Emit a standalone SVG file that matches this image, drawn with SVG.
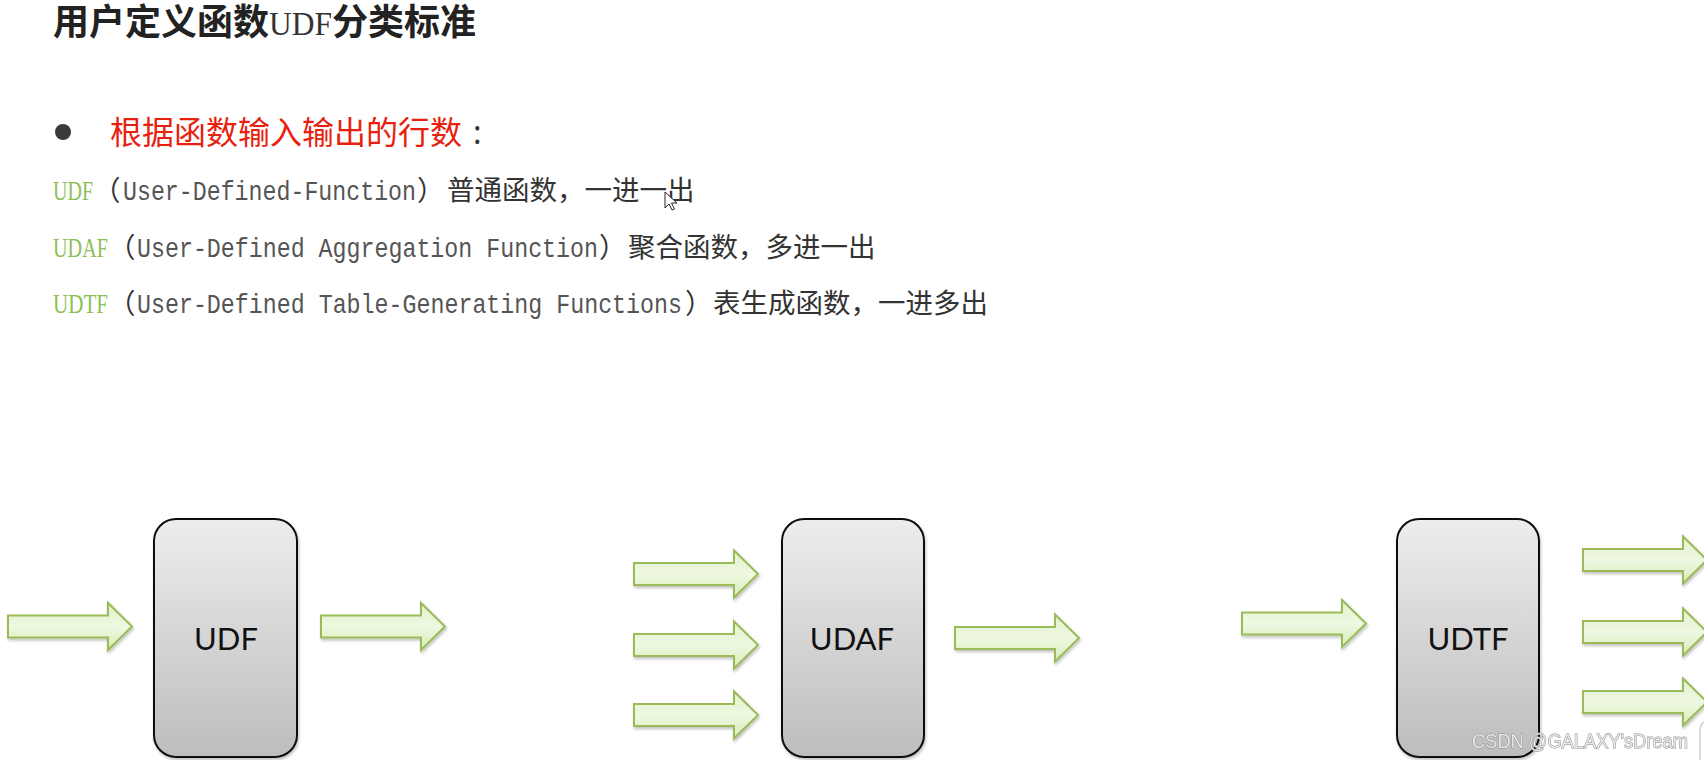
<svg xmlns="http://www.w3.org/2000/svg" width="1704" height="760" viewBox="0 0 1704 760">
<style>
.cjk{font-family:"Noto Sans CJK SC",sans-serif;fill:#333}
.title{font-size:36px;font-weight:700;fill:#222}
.tser{font-family:"Liberation Serif","Noto Sans CJK SC",serif;font-size:33px;fill:#333}
.red{font-size:32px;fill:#e8210f}
.colon{font-family:"Noto Sans","Noto Sans CJK SC",sans-serif;font-size:32px;fill:#333}
.line{font-size:27.5px}
.green{font-family:"Liberation Serif",serif;font-size:28px;fill:#8cbf55}
.mono{font-family:"Liberation Mono",monospace;font-size:28px;fill:#555}
.box{stroke:#111;stroke-width:2;fill:url(#boxg)}
.lbl{font-family:Lato,"Open Sans",sans-serif;font-size:31px;fill:#111;text-anchor:middle}
.arr{fill:url(#arrg);stroke:#9bbb59;stroke-width:2;stroke-linejoin:miter}
.wm{font-family:"Liberation Sans",Arial,sans-serif;font-size:21px;fill:#e6e6e6;stroke:#8a8a8a;stroke-width:1;paint-order:stroke}
</style>
<defs>
<linearGradient id="boxg" x1="0" y1="0" x2="0" y2="1">
<stop offset="0" stop-color="#ededed"/>
<stop offset="1" stop-color="#bdbdbd"/>
</linearGradient>
<linearGradient id="arrg" x1="0" y1="0" x2="0" y2="1">
<stop offset="0" stop-color="#e2f2cc"/>
<stop offset="0.5" stop-color="#eef8e2"/>
<stop offset="1" stop-color="#d6edb6"/>
</linearGradient>
<filter id="sh" x="-10%" y="-10%" width="130%" height="140%">
<feDropShadow dx="1" dy="2" stdDeviation="1.5" flood-color="#000" flood-opacity="0.25"/>
</filter>
<path id="arrow" class="arr" d="M0,-11 H100 V-23.5 L124,0 L100,23.5 V11 H0 Z"/>
</defs>
<rect width="1704" height="760" fill="#ffffff"/>

<g id="header">
<text x="53" y="35" class="cjk title">用户定义函数<tspan class="tser" font-weight="400" textLength="63" lengthAdjust="spacingAndGlyphs">UDF</tspan>分类标准</text>
<circle cx="63" cy="132" r="8" fill="#3a3a3a"/>
<text x="110" y="144" class="cjk red">根据函数输入输出的行数</text>
<text x="473" y="144" class="colon">:</text>
</g>

<g id="desc">
<text x="53" y="200" class="green" textLength="40" lengthAdjust="spacingAndGlyphs">UDF</text>
<text x="93" y="200" class="cjk line">（</text>
<text x="123" y="200" class="mono" textLength="293" lengthAdjust="spacingAndGlyphs">User-Defined-Function</text>
<text x="417" y="200" class="cjk line">）</text>
<text x="447" y="200" class="cjk line">普通函数，一进一出</text>

<text x="53" y="257" class="green" textLength="55" lengthAdjust="spacingAndGlyphs">UDAF</text>
<text x="108" y="257" class="cjk line">（</text>
<text x="137" y="257" class="mono" textLength="461" lengthAdjust="spacingAndGlyphs">User-Defined Aggregation Function</text>
<text x="599" y="257" class="cjk line">）</text>
<text x="628" y="257" class="cjk line">聚合函数，多进一出</text>

<text x="53" y="313" class="green" textLength="55" lengthAdjust="spacingAndGlyphs">UDTF</text>
<text x="108" y="313" class="cjk line">（</text>
<text x="137" y="313" class="mono" textLength="545" lengthAdjust="spacingAndGlyphs">User-Defined Table-Generating Functions</text>
<text x="685" y="313" class="cjk line">）</text>
<text x="713" y="313" class="cjk line">表生成函数，一进多出</text>
</g>

<g id="cursor">
<path d="M665,192 V208 L669,204 L672,210 L674.5,209 L671.5,203 L677,203 Z" fill="#fff" stroke="#222" stroke-width="1"/>
</g>

<g id="node-udf">
<rect x="154" y="519" width="143" height="238" rx="22" class="box" filter="url(#sh)"/>
<text x="226" y="650" class="lbl">UDF</text>
</g>
<g id="node-udaf">
<rect x="782" y="519" width="142" height="238" rx="22" class="box" filter="url(#sh)"/>
<text x="852" y="650" class="lbl">UDAF</text>
</g>
<g id="node-udtf">
<rect x="1397" y="519" width="142" height="238" rx="22" class="box" filter="url(#sh)"/>
<text x="1468" y="650" class="lbl">UDTF</text>
</g>

<g id="connectors" filter="url(#sh)">
<use href="#arrow" x="8" y="626.5"/>
<use href="#arrow" x="321" y="626.5"/>
<use href="#arrow" x="634" y="574"/>
<use href="#arrow" x="634" y="645"/>
<use href="#arrow" x="634" y="715"/>
<use href="#arrow" x="955" y="638"/>
<use href="#arrow" x="1242" y="623.5"/>
<use href="#arrow" x="1583" y="560"/>
<use href="#arrow" x="1583" y="632"/>
<use href="#arrow" x="1583" y="702"/>
</g>

<g id="watermark">
<text x="1472" y="748" class="wm" textLength="216" lengthAdjust="spacingAndGlyphs">CSDN @GALAXY'sDream</text>
<path d="M1704,722 Q1700,724 1700,732 V760" fill="none" stroke="#cfcfcf" stroke-width="1.5"/>
</g>
</svg>
